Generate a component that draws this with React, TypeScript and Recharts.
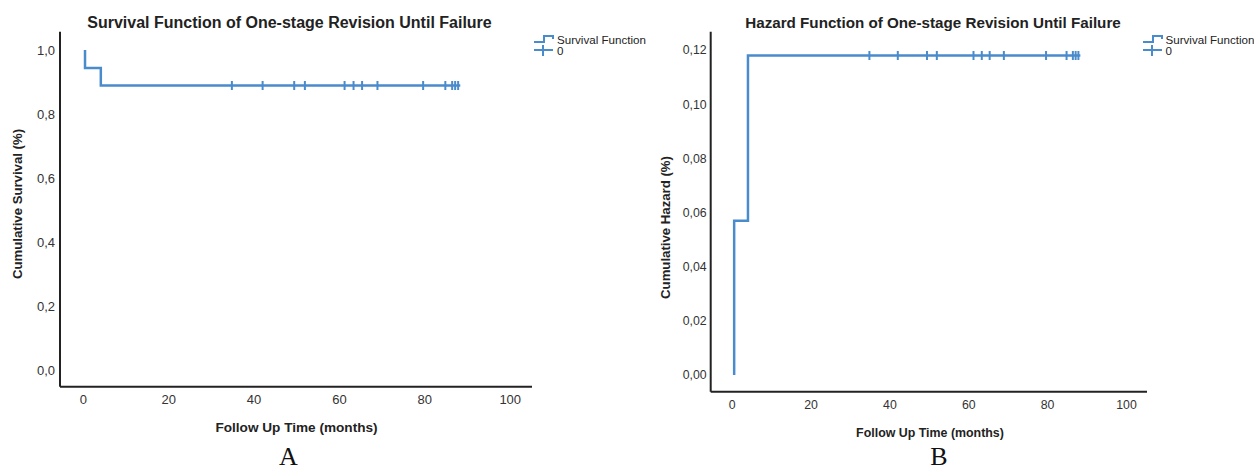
import React from "react";
import {
  ComposedChart,
  Line,
  Scatter,
  XAxis,
  YAxis,
  Legend,
} from "recharts";

// Kaplan-Meier step points (months)
const survTimes = [0.4, 0.4, 4.1, 88.3];
const survValues = [1.0, 0.944, 0.889, 0.889];
const hazTimes = [0.5, 0.5, 4.0, 88.3];
const hazValues = [0, 0.057, 0.118, 0.118];
// censored follow-up times (tick marks)
const censorMonths = [34.8, 42.0, 49.4, 51.9, 61.2, 63.3, 65.3, 68.9, 79.6, 84.8, 86.4, 87.1, 87.8];

const xTicks = [0, 20, 40, 60, 80, 100];
const survTicks = [0, 0.2, 0.4, 0.6, 0.8, 1.0];
const hazTicks = [0, 0.02, 0.04, 0.06, 0.08, 0.1, 0.12];
const legendLabels = ["Survival Function", "0"];

const BLUE = "#4a8bcb";
const AXIS = "#222";
const FONT = "'Liberation Sans', Arial, sans-serif";

const survData = survTimes.map((t, i) => ({ t, v: survValues[i] }));
const hazData = hazTimes.map((t, i) => ({ t, v: hazValues[i] }));
const survCensor = censorMonths.map((t) => ({ t, v: survValues[survValues.length - 1] }));
const hazCensor = censorMonths.map((t) => ({ t, v: hazValues[hazValues.length - 1] }));

const CensorMark = (props: any) => {
  const { cx, cy } = props;
  return <line x1={cx} x2={cx} y1={cy - 4.5} y2={cy + 4.5} stroke={BLUE} strokeWidth={2} />;
};

const LegendBox = (props: any) => {
  const entries = [...(props.payload || [])].sort(
    (a: any, b: any) => legendLabels.indexOf(a.value) - legendLabels.indexOf(b.value)
  );
  return (
    <div style={{ fontFamily: FONT, fontSize: 11.6, color: "#222", lineHeight: "11px" }}>
      {entries.map((entry: any, i: number) => (
        <div key={`leg-${i}`} style={{ display: "flex", alignItems: "center", height: 11 }}>
          <svg width={22} height={12} style={{ display: "block" }}>
            {entry.value === legendLabels[0] ? (
              <path d="M0,8 H10 V2 H19 V5" fill="none" stroke={BLUE} strokeWidth={2} />
            ) : (
              <g stroke={BLUE} strokeWidth={2}>
                <line x1={0} x2={19} y1={5} y2={5} />
                <line x1={9} x2={9} y1={0} y2={11} />
              </g>
            )}
          </svg>
          <span style={{ marginLeft: 1 }}>{entry.value}</span>
        </div>
      ))}
    </div>
  );
};

interface PanelProps {
  width: number;
  margin: { top: number; right: number; bottom: number; left: number };
  yAxisWidth: number;
  data: { t: number; v: number }[];
  censor: { t: number; v: number }[];
  xDomain: [number, number];
  yDomain: [number, number];
  yTicks: number[];
  yDigits: number;
  tickFont: number;
  xTickMargin: number;
  yTickMargin: number;
  title: string;
  titleSize: number;
  titleX: number;
  yTitle: string;
  yTitleX: number;
  yTitleY: number;
  xTitle: string;
  xTitleSize: number;
  xTitleX: number;
  xTitleY: number;
  caption: string;
  captionX: number;
  legendLeft: number;
}

const Panel = (p: PanelProps) => (
  <ComposedChart width={p.width} height={470} margin={p.margin}>
    <XAxis
      type="number"
      dataKey="t"
      domain={p.xDomain}
      ticks={xTicks}
      height={30}
      tickLine={false}
      tickSize={0}
      tickMargin={p.xTickMargin}
      axisLine={{ stroke: AXIS, strokeWidth: 2 }}
      tick={{ fill: "#333", fontSize: p.tickFont, fontFamily: FONT }}
      allowDataOverflow
    />
    <YAxis
      type="number"
      dataKey="v"
      domain={p.yDomain}
      ticks={p.yTicks}
      width={p.yAxisWidth}
      tickLine={false}
      tickSize={0}
      tickMargin={p.yTickMargin}
      axisLine={{ stroke: AXIS, strokeWidth: 2 }}
      tick={{ fill: "#333", fontSize: p.tickFont, fontFamily: FONT }}
      tickFormatter={(v: number) => v.toFixed(p.yDigits).replace(".", ",")}
      allowDataOverflow
    />
    <Line
      data={p.data}
      dataKey="v"
      name={legendLabels[0]}
      type="stepAfter"
      stroke={BLUE}
      strokeWidth={2.5}
      dot={false}
      activeDot={false}
      isAnimationActive={false}
    />
    <Scatter
      data={p.censor}
      dataKey="v"
      name={legendLabels[1]}
      shape={CensorMark}
      isAnimationActive={false}
    />
    <Legend
      layout="horizontal"
      verticalAlign="middle"
      align="center"
      content={LegendBox}
      wrapperStyle={{ left: p.legendLeft, top: 34, width: 140, height: 24 }}
    />
    <text
      x={p.titleX}
      y={27.5}
      textAnchor="middle"
      fontFamily={FONT}
      fontWeight="bold"
      fontSize={p.titleSize}
      fill="#222"
    >
      {p.title}
    </text>
    <text
      x={p.yTitleX}
      y={p.yTitleY}
      transform={`rotate(-90, ${p.yTitleX}, ${p.yTitleY})`}
      textAnchor="middle"
      fontFamily={FONT}
      fontWeight="bold"
      fontSize={13.2}
      fill="#222"
    >
      {p.yTitle}
    </text>
    <text
      x={p.xTitleX}
      y={p.xTitleY}
      textAnchor="middle"
      fontFamily={FONT}
      fontWeight="bold"
      fontSize={p.xTitleSize}
      fill="#222"
    >
      {p.xTitle}
    </text>
    <text
      x={p.captionX}
      y={465}
      textAnchor="middle"
      fontFamily="'Liberation Serif', 'Times New Roman', serif"
      fontSize={26}
      fill="#111"
    >
      {p.caption}
    </text>
  </ComposedChart>
);

export default function App() {
  return (
    <div style={{ position: "absolute", left: 0, top: 0, width: 1254, height: 470, background: "#fff" }}>
      <div style={{ position: "absolute", left: 0, top: 0 }}>
        <Panel
          width={656}
          margin={{ top: 31.7, right: 124, bottom: 53.3, left: 0 }}
          yAxisWidth={60}
          data={survData}
          censor={survCensor}
          xDomain={[-5.46, 105.1]}
          yDomain={[-0.0505, 1.057]}
          yTicks={survTicks}
          yDigits={1}
          tickFont={13}
          xTickMargin={8.5}
          yTickMargin={5}
          title="Survival Function of One-stage Revision Until Failure"
          titleSize={16}
          titleX={289.5}
          yTitle="Cumulative Survival (%)"
          yTitleX={22}
          yTitleY={204}
          xTitle="Follow Up Time (months)"
          xTitleSize={13.6}
          xTitleX={296.5}
          xTitleY={432}
          caption="A"
          captionX={288.5}
          legendLeft={534}
        />
      </div>
      <div style={{ position: "absolute", left: 656, top: 0 }}>
        <Panel
          width={598}
          margin={{ top: 31.7, right: 107, bottom: 48.3, left: 0 }}
          yAxisWidth={54.7}
          data={hazData}
          censor={hazCensor}
          xDomain={[-5.45, 105.2]}
          yDomain={[-0.00617, 0.1268]}
          yTicks={hazTicks}
          yDigits={2}
          tickFont={12.3}
          xTickMargin={8.9}
          yTickMargin={4}
          title="Hazard Function of One-stage Revision Until Failure"
          titleSize={15.2}
          titleX={277}
          yTitle="Cumulative Hazard (%)"
          yTitleX={13.7}
          yTitleY={227.5}
          xTitle="Follow Up Time (months)"
          xTitleSize={12.4}
          xTitleX={274}
          xTitleY={437.2}
          caption="B"
          captionX={283}
          legendLeft={486.5}
        />
      </div>
    </div>
  );
}
